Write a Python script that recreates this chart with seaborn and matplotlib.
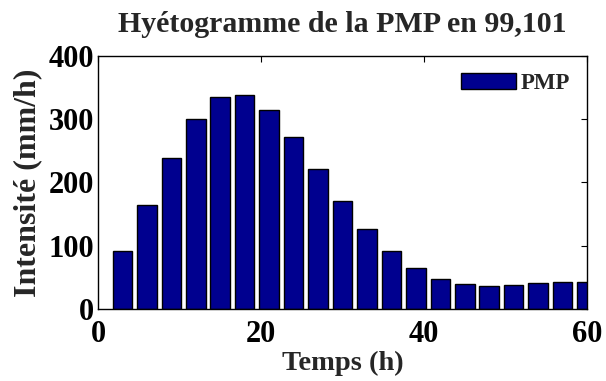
import matplotlib
matplotlib.use("Agg")
import matplotlib.pyplot as plt
import seaborn as sns
import pandas as pd

temps = [3, 6, 9, 12, 15, 18, 21, 24, 27, 30, 33, 36, 39, 42, 45, 48, 51, 54, 57, 60]
intensite = [91, 164, 239, 300, 335, 338, 314, 272, 221, 171,
             127, 91, 65, 48, 40, 37, 38, 41, 43, 42]
xticks = [0, 20, 40, 60]
yticks = [0, 100, 200, 300, 400]

sns.set_style("white")
plt.rcParams['font.family'] = ['Liberation Serif', 'DejaVu Serif']
plt.rcParams['font.weight'] = 'bold'

df = pd.DataFrame({"Temps": temps, "Intensite": intensite})

fig = plt.figure(figsize=(6.06, 3.81), dpi=100)
ax = fig.add_axes([0.1617, 0.189, 0.807, 0.664])

sns.barplot(data=df, x="Temps", y="Intensite", native_scale=True, width=0.8,
            color="#00008F", saturation=1, edgecolor="black", linewidth=1.0,
            label="PMP", ax=ax)

ax.set_xlim(0, 60)
ax.set_ylim(0, 400)
ax.set_xticks(xticks)
ax.set_yticks(yticks)
ax.tick_params(direction="in", top=True, right=True, length=4, width=0.8,
               labelsize=22, colors="black")
ax.tick_params(axis="x", pad=8)
ax.tick_params(axis="y", pad=3)
for lab in ax.get_xticklabels() + ax.get_yticklabels():
    lab.set_fontweight("bold")
for sp in ax.spines.values():
    sp.set_visible(True)
    sp.set_color("black")
    sp.set_linewidth(1.0)

ax.set_xlabel("Temps (h)", fontsize=20.5, fontweight="bold", labelpad=1)
ax.set_ylabel("Intensité (mm/h)", fontsize=23, fontweight="bold", labelpad=4)
ax.set_title("Hyétogramme de la PMP en 99,101", fontsize=21.5, fontweight="bold", pad=17)

leg = ax.legend(loc="upper right", frameon=False, prop={"size": 16.5, "weight": "bold"},
                handlelength=2.4, handleheight=0.7, handletextpad=0.2,
                borderaxespad=0.35)

fig.savefig("out.png", dpi=100)
